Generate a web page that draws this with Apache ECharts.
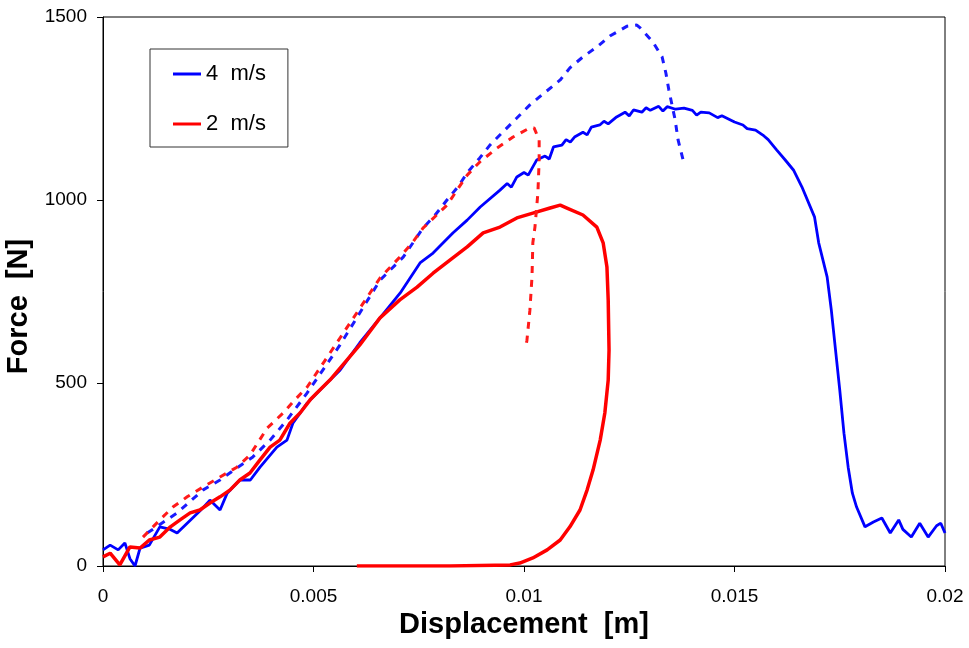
<!DOCTYPE html>
<html>
<head>
<meta charset="utf-8">
<script src="https://cdn.jsdelivr.net/npm/echarts@6/dist/echarts.min.js"></script>
<style>html,body{margin:0;padding:0;background:#fff}#c{width:969px;height:648px}</style>
</head>
<body>
<div id="c"></div>
<script>
// Tick values
const xTicks = [0, 0.005, 0.01, 0.015, 0.02];
const yTicks = [0, 500, 1000, 1500];
const seriesNames = ['4  m/s', '2  m/s'];

// 4 m/s measured (solid blue)
const blueSolidX = [0,0.00017,0.00036,0.00052,0.00064,0.00076,0.00088,0.0011,0.00135,0.0016,0.00176,0.002,0.0023,0.00254,0.00278,0.00295,0.00325,0.0035,0.00373,0.00413,0.00437,0.00451,0.00485,0.00532,0.00563,0.0061,0.00658,0.00706,0.00753,0.00784,0.00831,0.00865,0.00896,0.00943,0.0096,0.0097,0.00983,0.01,0.0101,0.0103,0.0105,0.0106,0.0107,0.0109,0.011,0.0111,0.0112,0.0114,0.0115,0.0116,0.0118,0.0119,0.012,0.0122,0.0124,0.0125,0.0126,0.0128,0.0129,0.013,0.0132,0.0133,0.0134,0.0136,0.0138,0.014,0.0141,0.0142,0.0144,0.0146,0.0147,0.015,0.0152,0.0153,0.0155,0.0157,0.0158,0.016,0.0162,0.0164,0.0166,0.0169,0.017,0.0172,0.0173,0.0174,0.0175,0.0176,0.0177,0.0178,0.0179,0.0181,0.0183,0.0185,0.0187,0.0189,0.019,0.0192,0.0194,0.0196,0.0198,0.0199,0.02];
const blueSolidY = [44,57,44,63,20,0,49,57,107,100,90,117,150,180,153,199,235,235,270,325,344,390,445,500,535,610,678,746,828,855,910,945,981,1027,1045,1035,1063,1075,1068,1109,1120,1112,1145,1150,1165,1158,1172,1185,1178,1199,1205,1215,1208,1227,1240,1230,1246,1240,1252,1245,1256,1243,1255,1248,1251,1245,1232,1240,1238,1225,1230,1213,1205,1195,1191,1175,1165,1137,1110,1082,1036,954,883,790,699,590,481,363,270,199,161,107,120,131,90,126,100,79,117,79,110,117,90];

// 2 m/s measured (solid red)
const redSolidX = [0,0.00017,0.0004,0.00064,0.00088,0.0011,0.00135,0.0016,0.00183,0.00207,0.0023,0.00254,0.00278,0.00302,0.00325,0.00349,0.00373,0.00397,0.0042,0.00444,0.00468,0.00492,0.00515,0.00539,0.0061,0.00658,0.00705,0.00746,0.00784,0.00824,0.00865,0.00903,0.00943,0.00983,0.01021,0.01062,0.01086,0.01102,0.0114,0.01173,0.01188,0.01197,0.012,0.01202,0.012,0.01192,0.01181,0.01164,0.0115,0.01133,0.01109,0.01086,0.01055,0.01021,0.0099,0.00967,0.00824,0.00603];
const redSolidY = [25,35,3,52,49,71,79,107,126,145,153,172,189,208,235,254,290,325,344,390,418,454,481,508,604,678,727,762,800,836,872,910,926,951,964,978,986,978,959,926,883,817,727,590,508,418,344,262,208,153,107,71,44,22,8,3,0,0];

// 4 m/s simulation (dashed blue)
const blueDashX = [0.00105,0.00176,0.00238,0.00278,0.00318,0.00356,0.00397,0.00437,0.00485,0.00563,0.00658,0.00713,0.0076,0.00789,0.00817,0.00843,0.00867,0.00895,0.00919,0.0095,0.00983,0.01014,0.01086,0.01109,0.0114,0.01173,0.01204,0.01245,0.01268,0.01276,0.01306,0.01328,0.01337,0.01344,0.01359,0.01366,0.01378];
const blueDashY = [90,145,208,235,268,298,344,399,473,604,781,844,923,959,1000,1036,1077,1115,1150,1186,1224,1260,1328,1361,1391,1418,1448,1475,1478,1470,1432,1391,1347,1301,1219,1164,1109];

// 2 m/s simulation (dashed red)
const redDashX = [0.00095,0.00135,0.00166,0.002,0.00238,0.00278,0.00318,0.00349,0.0039,0.00428,0.00451,0.00485,0.00563,0.00658,0.00705,0.00736,0.0076,0.00817,0.00841,0.00865,0.00895,0.00936,0.00974,0.01014,0.01024,0.01036,0.01036,0.01033,0.01026,0.01021,0.01019,0.01014,0.01007,0.01005];
const redDashY = [79,126,161,189,216,243,270,303,377,418,448,489,623,787,844,885,923,986,1027,1068,1104,1142,1172,1197,1197,1164,1109,1019,926,883,790,699,617,604];

function pairs(xs, ys) { return xs.map((x, i) => [x, ys[i]]); }

const FONT = 'Liberation Sans, Arial, sans-serif';
const chart = echarts.init(document.getElementById('c'), null, {renderer: 'canvas'});
chart.setOption({
  animation: false,
  backgroundColor: '#fff',
  grid: {left: 103, top: 17, right: 24, bottom: 82, containLabel: false, outerBoundsMode: 'none',
    show: true, borderColor: '#000', borderWidth: 1, backgroundColor: 'transparent'},
  legend: {
    data: seriesNames,
    left: 150, top: 49, orient: 'vertical',
    icon: 'rect', itemWidth: 28, itemHeight: 3, itemGap: 28,
    padding: [14, 22, 12, 23],
    borderColor: '#333', borderWidth: 1,
    selectedMode: false,
    textStyle: {fontFamily: FONT, fontSize: 22, color: '#000'}
  },
  xAxis: {
    type: 'value', min: xTicks[0], max: xTicks[xTicks.length - 1], interval: xTicks[1] - xTicks[0],
    name: 'Displacement  [m]', nameLocation: 'middle', nameGap: 44,
    nameTextStyle: {fontFamily: FONT, fontSize: 29, fontWeight: 'bold', color: '#000'},
    axisLine: {lineStyle: {color: '#000', width: 1}},
    axisTick: {show: true, length: 6, inside: false, lineStyle: {color: '#000'}},
    axisLabel: {margin: 21, fontFamily: FONT, fontSize: 19, color: '#000',
      formatter: v => String(parseFloat(v.toFixed(4)))},
    splitLine: {show: false}
  },
  yAxis: {
    type: 'value', min: yTicks[0], max: yTicks[yTicks.length - 1], interval: yTicks[1] - yTicks[0],
    name: 'Force  [N]', nameLocation: 'middle', nameGap: 66, nameRotate: 90,
    nameTextStyle: {fontFamily: FONT, fontSize: 29, fontWeight: 'bold', color: '#000', padding: [0, 30, 0, 0]},
    axisLine: {show: true, lineStyle: {color: '#000', width: 1}},
    axisTick: {show: true, length: 6, inside: false, lineStyle: {color: '#000'}},
    axisLabel: {margin: 16, fontFamily: FONT, fontSize: 19, color: '#000', formatter: v => String(v)},
    splitLine: {show: false}
  },
  series: [
    {name: seriesNames[0], type: 'line', data: pairs(blueSolidX, blueSolidY), showSymbol: false, symbol: 'none',
      lineStyle: {color: '#0000ff', width: 2.8}, itemStyle: {color: '#0000ff'}, z: 2},
    {name: seriesNames[1], type: 'line', data: pairs(redSolidX, redSolidY), showSymbol: false, symbol: 'none',
      lineStyle: {color: '#ff0000', width: 3.5}, itemStyle: {color: '#ff0000'}, z: 3},
    {name: '4 m/s sim', type: 'line', data: pairs(blueDashX, blueDashY), showSymbol: false, symbol: 'none',
      lineStyle: {color: '#1a1aff', width: 3, type: [7, 7]}, z: 4},
    {name: '2 m/s sim', type: 'line', data: pairs(redDashX, redDashY), showSymbol: false, symbol: 'none',
      lineStyle: {color: '#ff1a1a', width: 3, type: [7, 7]}, z: 5}
  ]
});
</script>
</body>
</html>
